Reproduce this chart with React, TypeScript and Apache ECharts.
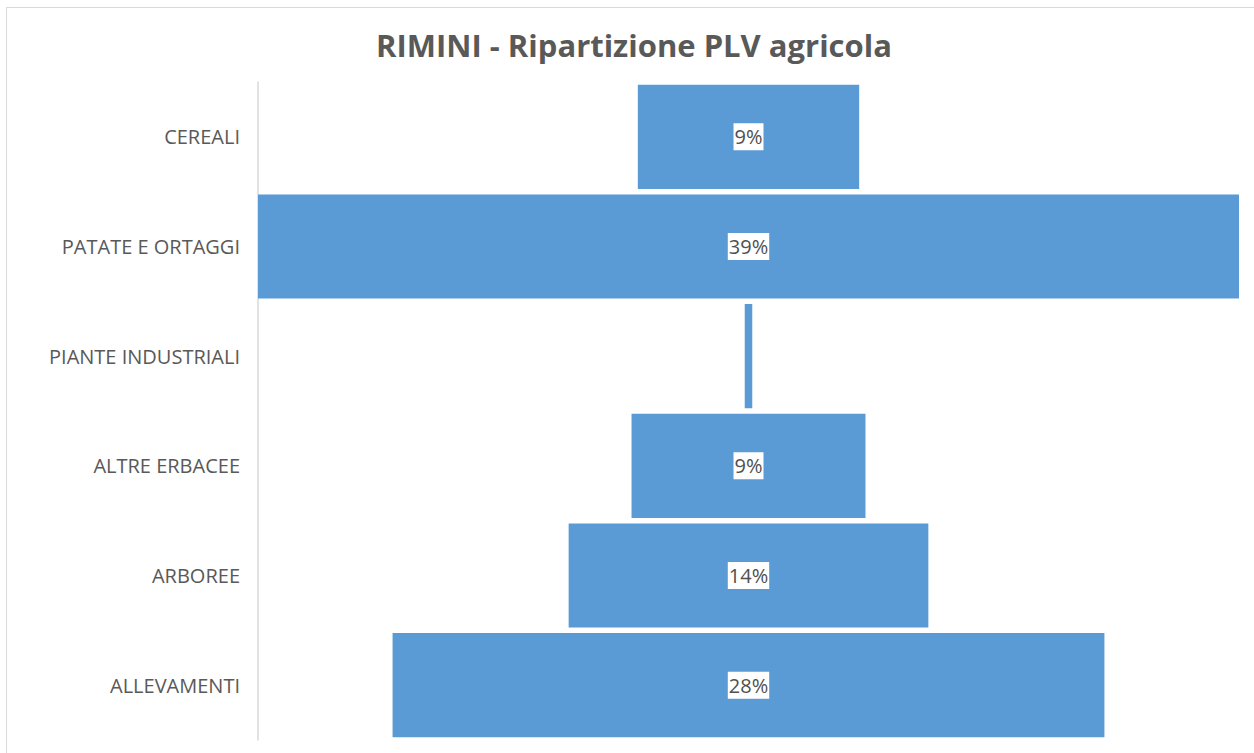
import React, { useEffect, useRef } from "react";
import * as echarts from "echarts";

const categories = ["CEREALI", "PATATE E ORTAGGI", "PIANTE INDUSTRIALI", "ALTRE ERBACEE", "ARBOREE", "ALLEVAMENTI"];
const shares = [8.8, 39.0, 0.3, 9.3, 14.3, 28.3];
const titleText = "RIMINI - Ripartizione PLV agricola";

export default function App() {
  const ref = useRef<HTMLDivElement>(null);
  useEffect(() => {
    if (!ref.current) return;
    const chart = echarts.init(ref.current, null, { renderer: "svg" });
    const maxV = Math.max(...shares);
    const offsets = shares.map((v) => (maxV - v) / 2);
    chart.setOption({
      animation: false,
      backgroundColor: "#ffffff",
      title: {
        text: titleText,
        left: 629,
        textAlign: "center",
        top: 24,
        textStyle: { fontFamily: "Open Sans", fontWeight: "bold", fontSize: 31, color: "#595959" },
      },
      graphic: [
        {
          type: "rect",
          shape: { x: 6.5, y: 7.5, width: 1260, height: 760 },
          style: { fill: "none", stroke: "#d9d9d9", lineWidth: 1 },
          silent: true,
        },
      ],
      grid: { left: 258, right: 15, top: 82, bottom: 13, containLabel: false },
      xAxis: {
        type: "value",
        min: 0,
        max: maxV,
        show: false,
      },
      yAxis: {
        type: "category",
        data: categories,
        inverse: true,
        axisLine: { show: true, lineStyle: { color: "#d9d9d9", width: 1.5 } },
        axisTick: { show: false },
        axisLabel: { fontFamily: "Open Sans", fontSize: 20, color: "#595959", margin: 18 },
      },
      series: [
        {
          type: "bar",
          stack: "f",
          data: offsets,
          itemStyle: { color: "transparent" },
          silent: true,
          barCategoryGap: "5%",
        },
        {
          type: "bar",
          stack: "f",
          barCategoryGap: "5%",
          data: shares.map((v) => ({
            value: v,
            label: { show: v >= 1 },
          })),
          itemStyle: { color: "#5B9BD5" },
          label: {
            show: true,
            position: "inside",
            formatter: (p: any) => Math.round(p.value) + "%",
            fontFamily: "Open Sans",
            fontSize: 20,
            color: "#505050",
            backgroundColor: "#ffffff",
            padding: [5, 1, 2, 1],
          },
        },
      ],
    });
    return () => chart.dispose();
  }, []);
  return (
    <div
      ref={ref}
      style={{ position: "fixed", left: 0, top: 0, width: 1254, height: 753 }}
    />
  );
}
